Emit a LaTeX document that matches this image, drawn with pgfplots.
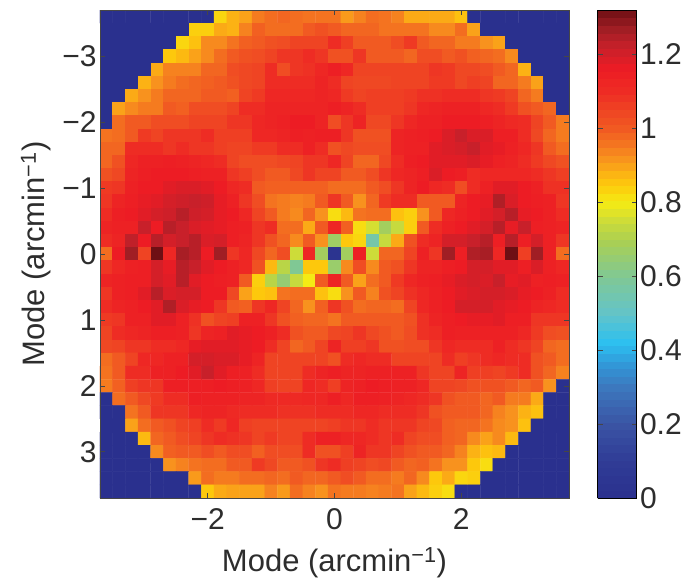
\documentclass[border=0pt]{standalone}
\usepackage{pgfplots}
\usepackage{pgfplotstable}
\usepackage{fontspec}
\setmainfont{Liberation Sans}
\pgfplotsset{compat=1.18}
\definecolor{axl}{RGB}{70,70,70}
\definecolor{txt}{RGB}{45,45,45}
\begin{document}
\begin{tikzpicture}
\path[use as bounding box] (-100pt,-82pt) rectangle (589pt,498pt);
\begin{axis}[
 at={(0pt,0pt)},anchor=south west,
 scale only axis,width=469pt,height=488pt,
 xmin=-3.7,xmax=3.7,ymin=-3.7,ymax=3.7,y dir=reverse,
 axis line style={axl,line width=0.8pt},
 tick style={axl,line width=0.7pt},tick align=inside,major tick length=5pt,
 xtick={-2,0,2},xticklabels={−2,0,2},
 ytick={-3,-2,-1,0,1,2,3},yticklabels={−3,−2,−1,0,1,2,3},
 ticklabel style={font=\fontsize{30}{34}\selectfont,text=txt},
 xticklabel style={yshift=-7pt},
 xlabel={Mode (arcmin\textsuperscript{−1})},ylabel={Mode (arcmin\textsuperscript{−1})},
 label style={font=\fontsize{31}{34}\selectfont,text=txt},
 xlabel style={yshift=-11pt},ylabel style={yshift=4pt},
 enlargelimits=false,axis on top,
 point meta min=0,point meta max=1.32,
 colormap={ref}{rgb255(0pt)=(42,48,142) rgb255(10pt)=(48,60,150) rgb255(20pt)=(58,84,164) rgb255(30pt)=(60,120,190) rgb255(36pt)=(50,150,215) rgb255(42pt)=(44,192,240) rgb255(50pt)=(100,196,200) rgb255(60pt)=(128,200,148) rgb255(70pt)=(172,208,80) rgb255(75pt)=(205,220,57) rgb255(80pt)=(245,235,20) rgb255(85pt)=(253,200,12) rgb255(88pt)=(252,178,20) rgb255(92pt)=(248,146,30) rgb255(96pt)=(244,115,32) rgb255(100pt)=(241,90,34) rgb255(105pt)=(239,68,35) rgb255(110pt)=(238,44,36) rgb255(116pt)=(237,28,36) rgb255(122pt)=(200,32,42) rgb255(127pt)=(160,30,36) rgb255(132pt)=(110,15,20)},
 colorbar sampled,
 colorbar style={at={(parent axis.south east)},anchor=south west,xshift=20pt,width=39pt,height=488pt,samples=65,
  xmin=0,xmax=1,
  ytick={0,0.2,0.4,0.6,0.8,1,1.2},yticklabels={0,0.2,0.4,0.6,0.8,1,1.2},
  ymin=0,ymax=1.32,y dir=normal,ticklabel style={font=\fontsize{30}{34}\selectfont,text=txt},
  tick align=inside,major tick length=5pt,yticklabel pos=right},
]
\addplot[matrix plot,draw=mapped color,line width=0.4pt,mesh/cols=37,mesh/rows=37,point meta=\thisrow{c}] table[row sep=crcr,x expr={0.2*(mod(\coordindex,37)-18)},y expr={0.2*(floor((\coordindex+0.5)/37)-18)}]{
c\\
0\\0\\0\\0\\0\\0\\0\\0\\0\\.83\\.88\\.9\\.95\\.97\\.98\\.97\\.96\\.96\\.96\\.91\\.94\\.97\\.96\\.94\\.89\\.89\\.89\\.89\\.86\\0\\0\\0\\0\\0\\0\\0\\0\\
0\\0\\0\\0\\0\\0\\0\\.84\\.84\\.89\\.88\\.94\\.99\\.97\\.97\\.97\\1.0\\1.02\\1.0\\.98\\.98\\.98\\.96\\.96\\.96\\.96\\.93\\.93\\.97\\.9\\0\\0\\0\\0\\0\\0\\0\\
0\\0\\0\\0\\0\\0\\.83\\.86\\.93\\.93\\.96\\.99\\1.0\\1.02\\1.03\\1.05\\1.05\\1.05\\1.1\\1.06\\1.0\\1.0\\1.0\\1.03\\1.07\\1.0\\.98\\.98\\.95\\.95\\.92\\.9\\0\\0\\0\\0\\0\\
0\\0\\0\\0\\0\\.85\\.87\\.9\\.93\\.97\\1.0\\1.02\\1.03\\1.05\\1.08\\1.08\\1.1\\1.08\\1.02\\1.02\\1.08\\1.0\\1.0\\1.0\\.98\\1.03\\1.03\\1.0\\1.02\\.99\\.98\\.97\\.93\\0\\0\\0\\0\\
0\\0\\0\\0\\.89\\.94\\.94\\.94\\.98\\.98\\1.03\\1.04\\1.05\\1.1\\1.03\\1.08\\1.09\\1.12\\1.15\\1.12\\1.05\\1.05\\1.05\\1.05\\1.05\\1.05\\1.08\\1.07\\1.04\\1.04\\1.03\\1.0\\.98\\.88\\0\\0\\0\\
0\\0\\0\\.88\\.92\\.95\\.97\\.98\\.99\\1.0\\1.02\\1.04\\1.05\\1.1\\1.1\\1.1\\1.1\\1.13\\1.1\\1.05\\1.04\\1.04\\1.04\\1.05\\1.05\\1.05\\1.07\\1.07\\1.04\\1.06\\1.05\\.98\\.98\\.95\\.9\\0\\0\\
0\\0\\.89\\.92\\.95\\.98\\.98\\.98\\1.0\\1.0\\.99\\1.05\\1.07\\1.12\\1.12\\1.12\\1.12\\1.13\\1.12\\1.07\\1.05\\1.06\\1.06\\1.06\\1.07\\1.09\\1.09\\1.1\\1.1\\1.1\\1.08\\1.07\\1.05\\.98\\.95\\0\\0\\
0\\.9\\.93\\.95\\.95\\1.0\\.99\\1.03\\1.03\\1.03\\1.05\\1.1\\1.1\\1.13\\1.13\\1.13\\1.13\\1.13\\1.15\\1.13\\1.1\\1.06\\1.06\\1.06\\1.08\\1.12\\1.13\\1.14\\1.14\\1.14\\1.12\\1.1\\1.07\\1.02\\1.0\\.98\\0\\
0\\.97\\1.0\\1.0\\1.03\\1.03\\1.03\\1.05\\1.05\\1.05\\1.08\\1.08\\1.12\\1.13\\1.14\\1.16\\1.16\\1.13\\1.03\\1.08\\1.13\\1.04\\1.04\\1.08\\1.12\\1.14\\1.14\\1.16\\1.16\\1.16\\1.15\\1.13\\1.11\\1.1\\1.05\\1.0\\.95\\
.96\\.97\\1.0\\1.07\\1.05\\1.08\\1.08\\1.08\\1.1\\1.06\\1.06\\1.06\\1.12\\1.12\\1.13\\1.15\\1.14\\1.15\\1.15\\1.08\\1.02\\1.02\\1.02\\1.13\\1.14\\1.15\\1.16\\1.19\\1.22\\1.19\\1.19\\1.15\\1.15\\1.1\\1.04\\.98\\.95\\
.98\\.98\\1.1\\1.1\\1.1\\1.08\\1.1\\1.08\\1.08\\1.06\\1.05\\1.05\\1.07\\1.07\\1.1\\1.1\\1.14\\1.1\\1.02\\1.04\\1.03\\1.03\\1.03\\1.13\\1.14\\1.14\\1.18\\1.19\\1.2\\1.22\\1.18\\1.17\\1.14\\1.12\\1.08\\1.0\\.97\\
.98\\1.02\\1.12\\1.14\\1.14\\1.15\\1.14\\1.13\\1.12\\1.1\\1.05\\1.03\\1.03\\1.03\\1.04\\1.05\\1.08\\1.08\\1.12\\1.05\\.98\\.98\\1.04\\1.1\\1.15\\1.16\\1.18\\1.18\\1.18\\1.19\\1.17\\1.14\\1.13\\1.1\\1.07\\1.04\\1.02\\
1.02\\1.04\\1.13\\1.15\\1.16\\1.16\\1.16\\1.15\\1.14\\1.14\\1.08\\1.06\\1.03\\1.0\\1.0\\1.04\\1.08\\1.05\\1.05\\1.0\\1.0\\1.03\\1.08\\1.12\\1.13\\1.15\\1.19\\1.16\\1.15\\1.1\\1.12\\1.12\\1.12\\1.12\\1.1\\1.08\\1.06\\
1.07\\1.08\\1.14\\1.16\\1.16\\1.18\\1.19\\1.19\\1.18\\1.16\\1.12\\1.1\\1.0\\.99\\.99\\.99\\.99\\.99\\.97\\.97\\.97\\1.0\\1.03\\1.08\\1.13\\1.16\\1.12\\1.1\\1.03\\1.1\\1.14\\1.18\\1.18\\1.16\\1.14\\1.09\\1.09\\
1.08\\1.13\\1.15\\1.17\\1.18\\1.2\\1.21\\1.22\\1.21\\1.17\\1.14\\1.08\\1.03\\.96\\.95\\.94\\.95\\1.0\\1.08\\1.0\\.92\\.98\\1.07\\1.1\\1.1\\1.0\\1.0\\1.0\\1.13\\1.16\\1.17\\1.25\\1.19\\1.16\\1.15\\1.14\\1.08\\
1.1\\1.15\\1.16\\1.18\\1.2\\1.21\\1.24\\1.21\\1.2\\1.17\\1.16\\1.12\\1.05\\1.0\\.95\\.93\\.98\\.92\\.82\\.87\\.96\\.97\\.97\\.86\\.84\\.92\\1.0\\1.12\\1.14\\1.16\\1.18\\1.2\\1.24\\1.17\\1.16\\1.14\\1.1\\
1.13\\1.14\\1.14\\1.22\\1.16\\1.24\\1.22\\1.19\\1.18\\1.17\\1.15\\1.14\\1.08\\1.1\\.97\\.97\\.89\\1.0\\1.12\\.99\\.82\\.76\\.68\\.74\\.84\\1.0\\1.1\\1.14\\1.16\\1.18\\1.2\\1.24\\1.17\\1.22\\1.15\\1.14\\1.13\\
1.1\\1.13\\1.23\\1.16\\1.24\\1.2\\1.22\\1.24\\1.19\\1.2\\1.15\\1.13\\1.08\\1.02\\.98\\.93\\1.0\\.92\\.67\\.85\\.83\\.56\\.74\\.89\\1.02\\1.1\\1.13\\1.2\\1.2\\1.22\\1.24\\1.15\\1.24\\1.15\\1.2\\1.14\\1.08\\
.97\\1.16\\1.27\\1.05\\1.32\\1.12\\1.26\\1.24\\1.16\\1.27\\1.08\\1.12\\1.04\\.98\\1.03\\.75\\1.12\\.68\\.03\\.68\\1.14\\.75\\.98\\.98\\1.05\\1.14\\1.08\\1.27\\1.15\\1.25\\1.26\\1.12\\1.32\\1.06\\1.27\\1.14\\.97\\
1.08\\1.12\\1.14\\1.15\\1.2\\1.17\\1.24\\1.22\\1.18\\1.16\\1.14\\1.12\\1.02\\.87\\.72\\.6\\.85\\.85\\.66\\.93\\1.03\\.93\\1.0\\1.02\\1.08\\1.13\\1.13\\1.15\\1.16\\1.2\\1.2\\1.18\\1.18\\1.15\\1.19\\1.14\\1.12\\
1.13\\1.14\\1.15\\1.15\\1.2\\1.18\\1.24\\1.18\\1.16\\1.15\\1.14\\1.0\\.84\\.72\\.65\\.74\\.8\\1.0\\1.13\\1.0\\.9\\.97\\1.0\\1.07\\1.12\\1.14\\1.15\\1.17\\1.19\\1.2\\1.19\\1.22\\1.17\\1.18\\1.14\\1.15\\1.14\\
1.08\\1.14\\1.15\\1.18\\1.24\\1.19\\1.2\\1.2\\1.16\\1.16\\1.04\\.9\\.85\\.86\\.96\\.97\\.97\\.86\\.82\\.92\\1.0\\.94\\1.02\\1.05\\1.09\\1.12\\1.14\\1.16\\1.18\\1.19\\1.2\\1.2\\1.19\\1.17\\1.16\\1.14\\1.1\\
1.1\\1.13\\1.14\\1.16\\1.18\\1.25\\1.19\\1.17\\1.16\\1.08\\1.0\\.99\\1.08\\1.12\\1.05\\.98\\.92\\.99\\1.08\\1.02\\.97\\.98\\.98\\.97\\1.05\\1.12\\1.14\\1.16\\1.2\\1.2\\1.2\\1.18\\1.17\\1.16\\1.13\\1.12\\1.1\\
1.07\\1.08\\1.14\\1.14\\1.18\\1.18\\1.14\\1.09\\1.02\\1.05\\1.06\\1.14\\1.14\\1.08\\1.02\\.99\\.98\\.98\\.96\\1.0\\1.0\\1.0\\1.0\\1.0\\1.02\\1.09\\1.13\\1.15\\1.16\\1.17\\1.17\\1.18\\1.15\\1.15\\1.08\\1.08\\1.08\\
1.05\\1.1\\1.12\\1.13\\1.15\\1.15\\1.14\\1.08\\1.13\\1.14\\1.18\\1.17\\1.16\\1.14\\1.1\\1.02\\1.0\\1.0\\1.04\\1.05\\1.08\\1.04\\1.02\\1.0\\1.03\\1.09\\1.1\\1.15\\1.14\\1.14\\1.14\\1.14\\1.14\\1.12\\1.07\\1.03\\1.02\\
1.04\\1.05\\1.08\\1.08\\1.1\\1.1\\1.12\\1.17\\1.18\\1.18\\1.18\\1.17\\1.16\\1.1\\1.05\\.98\\1.0\\1.05\\1.13\\1.06\\1.06\\1.08\\1.02\\1.02\\1.03\\1.03\\1.08\\1.12\\1.1\\1.1\\1.1\\1.14\\1.1\\1.08\\1.05\\.98\\.97\\
.97\\1.0\\1.05\\1.12\\1.12\\1.14\\1.14\\1.2\\1.2\\1.19\\1.19\\1.17\\1.13\\1.05\\1.05\\1.05\\1.05\\1.05\\1.02\\1.1\\1.12\\1.1\\1.1\\1.05\\1.05\\1.05\\1.05\\1.1\\1.06\\1.08\\1.1\\1.12\\1.1\\1.1\\1.02\\1.0\\.97\\
.96\\1.0\\1.1\\1.1\\1.14\\1.14\\1.16\\1.18\\1.22\\1.18\\1.15\\1.14\\1.1\\1.05\\1.05\\1.05\\1.1\\1.13\\1.15\\1.13\\1.13\\1.14\\1.14\\1.14\\1.14\\1.08\\1.05\\1.05\\1.13\\1.06\\1.06\\1.05\\1.07\\1.1\\1.02\\.98\\.94\\
.95\\.99\\1.06\\1.08\\1.08\\1.15\\1.15\\1.15\\1.15\\1.16\\1.15\\1.14\\1.12\\1.06\\1.05\\1.05\\1.12\\1.1\\1.06\\1.13\\1.14\\1.16\\1.15\\1.14\\1.14\\1.12\\1.05\\1.05\\1.04\\1.02\\1.02\\1.02\\1.0\\.98\\1.0\\.92\\0\\
0\\.97\\1.0\\1.04\\1.07\\1.1\\1.1\\1.15\\1.14\\1.14\\1.14\\1.13\\1.13\\1.11\\1.11\\1.11\\1.12\\1.12\\1.15\\1.12\\1.15\\1.15\\1.14\\1.13\\1.12\\1.1\\1.08\\1.02\\1.0\\1.0\\.98\\1.0\\.95\\.95\\.89\\0\\0\\
0\\0\\.96\\1.0\\1.08\\1.08\\1.08\\1.12\\1.13\\1.13\\1.11\\1.1\\1.1\\1.1\\1.09\\1.09\\1.09\\1.1\\1.1\\1.1\\1.12\\1.12\\1.1\\1.1\\1.1\\1.08\\1.02\\1.0\\1.0\\1.0\\.98\\.94\\.92\\.88\\.86\\0\\0\\
0\\0\\.9\\.97\\1.0\\1.02\\1.05\\1.06\\1.1\\1.07\\1.12\\1.06\\1.05\\1.05\\1.05\\1.05\\1.05\\1.05\\1.06\\1.08\\1.08\\1.1\\1.08\\1.08\\1.08\\1.05\\1.04\\.99\\.98\\.98\\.96\\.93\\.92\\.86\\0\\0\\0\\
0\\0\\0\\.87\\.98\\1.0\\1.03\\1.05\\1.08\\1.1\\1.09\\1.08\\1.05\\1.07\\1.05\\1.05\\1.1\\1.14\\1.14\\1.12\\1.12\\1.1\\1.08\\1.1\\1.05\\1.03\\1.03\\.99\\.98\\.93\\.9\\.93\\.87\\0\\0\\0\\0\\
0\\0\\0\\0\\.93\\.99\\1.0\\1.0\\1.03\\1.0\\1.03\\1.03\\.99\\1.03\\1.03\\1.03\\1.1\\1.02\\1.02\\1.06\\1.13\\1.08\\1.08\\1.05\\1.02\\1.0\\1.0\\.98\\.94\\.88\\.86\\.87\\0\\0\\0\\0\\0\\
0\\0\\0\\0\\0\\.92\\.94\\.96\\.97\\.97\\1.0\\1.0\\1.07\\1.04\\1.0\\1.0\\1.02\\1.08\\1.1\\1.06\\1.05\\1.03\\1.04\\1.0\\.98\\.99\\.96\\.92\\.92\\.85\\.82\\0\\0\\0\\0\\0\\0\\
0\\0\\0\\0\\0\\0\\0\\.91\\.97\\.95\\.95\\.97\\.97\\.98\\.97\\1.0\\.98\\.98\\1.0\\1.03\\1.0\\.97\\.97\\.95\\.98\\.93\\.85\\.89\\.83\\.84\\0\\0\\0\\0\\0\\0\\0\\
0\\0\\0\\0\\0\\0\\0\\0\\.85\\.89\\.9\\.9\\.9\\.94\\.91\\.97\\.94\\.92\\.96\\.95\\.95\\.94\\.95\\.96\\.9\\.87\\.84\\.82\\0\\0\\0\\0\\0\\0\\0\\0\\0\\
};
\end{axis}
\end{tikzpicture}
\end{document}
